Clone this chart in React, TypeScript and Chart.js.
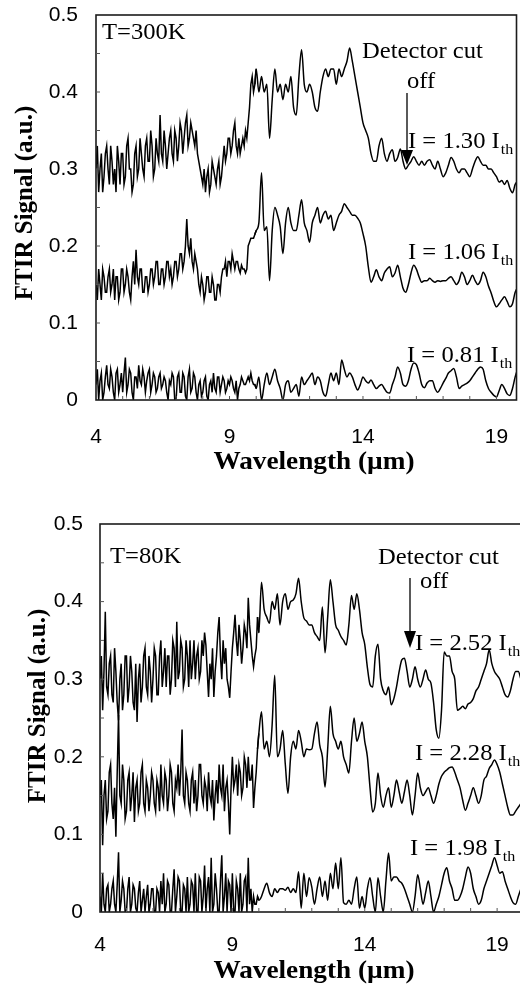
import React, { useEffect, useRef } from 'react';
import { Chart, registerables } from 'chart.js';

Chart.register(...registerables);

// Sampling grids (µm): fine 4.00 … 9.95 (0.05 µm), coarse 10.0 … 19.9 (0.1 µm)
const wlFine: number[] = Array.from({ length: 120 }, (_, i) => (400 + 5 * i) / 100);
const wlCoarse: number[] = Array.from({ length: 100 }, (_, i) => (100 + i) / 10);

const xTicks = [4, 9, 14, 19];
const xTickLabels = ['4', '9', '14', '19'];
const yTicks = [0, 0.1, 0.2, 0.3, 0.4, 0.5];
const yTickLabels = ['0', '0.1', '0.2', '0.3', '0.4', '0.5'];
const yMinorTicks = [0.05, 0.1, 0.15, 0.2, 0.25, 0.3, 0.35, 0.4, 0.45];
const xMinorTicks = [5, 6, 7, 8, 9, 10, 11, 12, 13, 14, 15, 16, 17, 18, 19];

// ---------- T = 300 K ----------
const t300_I130_fine = [
  0.30, 0.33, 0.27, 0.30, 0.32, 0.27, 0.29, 0.32, 0.33, 0.30, 0.28, 0.33, 0.31, 0.28, 0.30, 0.27, 0.33, 0.31, 0.28, 0.32,
  0.32, 0.28, 0.29, 0.33, 0.34, 0.30, 0.30, 0.27, 0.28, 0.32, 0.33, 0.29, 0.30, 0.34, 0.32, 0.30, 0.29, 0.33, 0.34, 0.31,
  0.31, 0.35, 0.33, 0.29, 0.30, 0.34, 0.32, 0.31, 0.37, 0.32, 0.31, 0.35, 0.33, 0.30, 0.32, 0.34, 0.35, 0.32, 0.31, 0.35,
  0.34, 0.31, 0.33, 0.36, 0.35, 0.32, 0.34, 0.36, 0.37, 0.33, 0.34, 0.36, 0.35, 0.34, 0.33, 0.35, 0.32, 0.31, 0.30, 0.29,
  0.28, 0.30, 0.27, 0.29, 0.30, 0.27, 0.28, 0.31, 0.30, 0.29, 0.28, 0.30, 0.31, 0.28, 0.29, 0.31, 0.33, 0.31, 0.32, 0.34,
  0.34, 0.32, 0.33, 0.35, 0.36, 0.33, 0.32, 0.34, 0.32, 0.33, 0.34, 0.33, 0.35, 0.34, 0.36, 0.38, 0.41, 0.42, 0.40, 0.41,
];
const t300_I130_coarse = [
  0.43, 0.40, 0.42, 0.40, 0.41, 0.34, 0.39, 0.43, 0.40, 0.41,
  0.39, 0.41, 0.40, 0.42, 0.38, 0.37, 0.42, 0.455, 0.41, 0.40,
  0.41, 0.40, 0.38, 0.375, 0.40, 0.42, 0.43, 0.42, 0.43, 0.43,
  0.41, 0.43, 0.42, 0.43, 0.44, 0.457, 0.44, 0.42, 0.40, 0.38,
  0.36, 0.35, 0.34, 0.32, 0.31, 0.31, 0.33, 0.34, 0.32, 0.31,
  0.32, 0.325, 0.31, 0.315, 0.326, 0.31, 0.30, 0.305, 0.31, 0.316,
  0.31, 0.305, 0.31, 0.305, 0.31, 0.312, 0.305, 0.30, 0.31, 0.30,
  0.29, 0.295, 0.305, 0.315, 0.31, 0.30, 0.295, 0.30, 0.30, 0.295,
  0.29, 0.30, 0.31, 0.316, 0.31, 0.305, 0.305, 0.30, 0.30, 0.295,
  0.29, 0.283, 0.285, 0.28, 0.285, 0.275, 0.269, 0.28, 0.285, 0.29,
];
const t300_I106_fine = [
  0.15, 0.13, 0.17, 0.15, 0.13, 0.17, 0.16, 0.14, 0.14, 0.16, 0.17, 0.14, 0.15, 0.17, 0.13, 0.16, 0.16, 0.13, 0.14, 0.17,
  0.17, 0.14, 0.15, 0.17, 0.16, 0.14, 0.13, 0.16, 0.18, 0.15, 0.195, 0.16, 0.15, 0.17, 0.17, 0.14, 0.14, 0.16, 0.16, 0.14,
  0.15, 0.17, 0.17, 0.15, 0.16, 0.18, 0.18, 0.15, 0.15, 0.17, 0.17, 0.15, 0.16, 0.18, 0.18, 0.16, 0.17, 0.15, 0.16, 0.18,
  0.18, 0.16, 0.17, 0.19, 0.19, 0.17, 0.18, 0.20, 0.235, 0.20, 0.19, 0.21, 0.18, 0.17, 0.19, 0.18, 0.17, 0.15, 0.14, 0.16,
  0.15, 0.13, 0.14, 0.16, 0.16, 0.14, 0.14, 0.16, 0.15, 0.13, 0.13, 0.15, 0.15, 0.14, 0.16, 0.17, 0.17, 0.18, 0.16, 0.18,
  0.18, 0.17, 0.19, 0.18, 0.17, 0.18, 0.18, 0.17, 0.165, 0.175, 0.17, 0.17, 0.165, 0.17, 0.20, 0.205, 0.21, 0.21, 0.21, 0.215,
];
const t300_I106_coarse = [
  0.22, 0.23, 0.295, 0.22, 0.225, 0.155, 0.22, 0.25, 0.24, 0.225,
  0.19, 0.23, 0.25, 0.23, 0.22, 0.22, 0.24, 0.26, 0.23, 0.22,
  0.205, 0.23, 0.24, 0.25, 0.23, 0.24, 0.245, 0.235, 0.24, 0.22,
  0.23, 0.24, 0.245, 0.255, 0.25, 0.245, 0.24, 0.24, 0.236, 0.23,
  0.216, 0.20, 0.173, 0.153, 0.16, 0.169, 0.16, 0.155, 0.165, 0.17,
  0.173, 0.16, 0.165, 0.175, 0.16, 0.145, 0.14, 0.15, 0.165, 0.175,
  0.17, 0.16, 0.153, 0.155, 0.155, 0.158, 0.155, 0.153, 0.155, 0.154,
  0.155, 0.155, 0.158, 0.16, 0.155, 0.15, 0.155, 0.166, 0.16, 0.15,
  0.155, 0.162, 0.155, 0.15, 0.155, 0.166, 0.16, 0.148, 0.139, 0.128,
  0.121, 0.125, 0.13, 0.134, 0.128, 0.121, 0.125, 0.14, 0.145, 0.14,
];
const t300_I081_fine = [
  0.02, 0.04, 0.0, 0.025, 0.035, 0.0, 0.01, 0.03, 0.045, 0.02, 0.015, 0.04, 0.03, 0.01, 0.0, 0.035, 0.04, 0.01, 0.02, 0.035,
  0.01, 0.035, 0.055, 0.01, 0.02, 0.04, 0.035, 0.01, 0.0, 0.03, 0.03, 0.015, 0.045, 0.025, 0.02, 0.04, 0.03, 0.01, 0.025, 0.035,
  0.04, 0.01, 0.02, 0.035, 0.03, 0.01, 0.015, 0.03, 0.035, 0.015, 0.02, 0.03, 0.025, 0.01, 0.0, 0.025, 0.02, 0.035, 0.03, 0.0,
  0.0, 0.03, 0.035, 0.01, 0.01, 0.035, 0.03, 0.005, 0.0, 0.03, 0.04, 0.01, 0.015, 0.035, 0.03, 0.01, 0.0, 0.02, 0.025, 0.005,
  0.01, 0.025, 0.03, 0.005, 0.0, 0.02, 0.025, 0.01, 0.035, 0.015, 0.01, 0.03, 0.03, 0.01, 0.02, 0.03, 0.025, 0.01, 0.015, 0.025,
  0.02, 0.03, 0.025, 0.015, 0.01, 0.025, 0.0, 0.015, 0.02, 0.03, 0.025, 0.02, 0.02, 0.025, 0.03, 0.025, 0.035, 0.025, 0.02, 0.02,
];
const t300_I081_coarse = [
  0.015, 0.03, 0.0, 0.02, 0.035, 0.02, 0.03, 0.04, 0.025, 0.015,
  0.0, 0.02, 0.025, 0.01, 0.015, 0.02, 0.005, 0.03, 0.02, 0.025,
  0.03, 0.035, 0.02, 0.03, 0.025, 0.01, 0.005, 0.02, 0.035, 0.025,
  0.035, 0.02, 0.052, 0.04, 0.03, 0.035, 0.03, 0.02, 0.013, 0.02,
  0.03, 0.025, 0.022, 0.026, 0.02, 0.015, 0.018, 0.02, 0.015, 0.01,
  0.009, 0.02, 0.03, 0.043, 0.035, 0.02, 0.018, 0.025, 0.04, 0.048,
  0.046, 0.035, 0.02, 0.016, 0.022, 0.025, 0.025, 0.015, 0.01, 0.015,
  0.022, 0.028, 0.035, 0.038, 0.041, 0.03, 0.015, 0.018, 0.02, 0.022,
  0.025, 0.03, 0.035, 0.04, 0.043, 0.04, 0.025, 0.015, 0.01, 0.006,
  0.004, 0.012, 0.02, 0.015, 0.008, 0.006, 0.015, 0.03, 0.04, 0.045,
];

// ---------- T = 80 K ----------
const t80_I252_fine = [
  0.30, 0.33, 0.26, 0.31, 0.387, 0.29, 0.28, 0.32, 0.33, 0.28, 0.27, 0.34, 0.31, 0.27, 0.247, 0.30, 0.32, 0.26, 0.28, 0.33,
  0.33, 0.27, 0.29, 0.33, 0.31, 0.27, 0.26, 0.32, 0.245, 0.30, 0.32, 0.27, 0.29, 0.33, 0.34, 0.29, 0.28, 0.33, 0.31, 0.27,
  0.30, 0.34, 0.33, 0.28, 0.28, 0.33, 0.35, 0.29, 0.31, 0.34, 0.29, 0.33, 0.33, 0.28, 0.30, 0.35, 0.34, 0.29, 0.374, 0.30,
  0.31, 0.35, 0.34, 0.29, 0.30, 0.35, 0.33, 0.29, 0.35, 0.30, 0.32, 0.35, 0.30, 0.33, 0.34, 0.30, 0.31, 0.35, 0.33, 0.36,
  0.344, 0.31, 0.277, 0.32, 0.30, 0.34, 0.277, 0.31, 0.33, 0.36, 0.38, 0.33, 0.30, 0.35, 0.32, 0.34, 0.30, 0.29, 0.276, 0.31,
  0.34, 0.36, 0.383, 0.35, 0.33, 0.37, 0.35, 0.32, 0.34, 0.37, 0.36, 0.34, 0.405, 0.37, 0.35, 0.33, 0.316, 0.33, 0.34, 0.38,
];
const t80_I252_coarse = [
  0.36, 0.425, 0.39, 0.38, 0.372, 0.40, 0.39, 0.41, 0.37, 0.40,
  0.41, 0.39, 0.40, 0.402, 0.41, 0.43, 0.40, 0.379, 0.375, 0.37,
  0.37, 0.36, 0.355, 0.35, 0.393, 0.334, 0.38, 0.428, 0.40, 0.37,
  0.363, 0.355, 0.35, 0.344, 0.37, 0.408, 0.39, 0.41, 0.39, 0.36,
  0.345, 0.315, 0.293, 0.29, 0.33, 0.345, 0.30, 0.285, 0.28, 0.29,
  0.267, 0.275, 0.29, 0.31, 0.325, 0.327, 0.31, 0.29, 0.30, 0.316,
  0.30, 0.29, 0.30, 0.312, 0.30, 0.295, 0.27, 0.235, 0.224, 0.26,
  0.335, 0.33, 0.33, 0.31, 0.30, 0.26, 0.262, 0.265, 0.262, 0.268,
  0.27, 0.275, 0.285, 0.29, 0.30, 0.31, 0.32, 0.338, 0.32, 0.31,
  0.305, 0.30, 0.29, 0.28, 0.277, 0.285, 0.30, 0.31, 0.31, 0.30,
];
const t80_I228_fine = [
  0.148, 0.17, 0.086, 0.15, 0.17, 0.12, 0.13, 0.18, 0.19, 0.14, 0.12, 0.16, 0.097, 0.18, 0.254, 0.15, 0.14, 0.19, 0.17, 0.12,
  0.13, 0.17, 0.18, 0.13, 0.15, 0.18, 0.116, 0.16, 0.17, 0.13, 0.14, 0.18, 0.19, 0.14, 0.13, 0.17, 0.16, 0.13, 0.15, 0.18,
  0.17, 0.14, 0.13, 0.17, 0.16, 0.13, 0.19, 0.15, 0.14, 0.18, 0.17, 0.13, 0.15, 0.19, 0.18, 0.14, 0.13, 0.17, 0.16, 0.19,
  0.15, 0.18, 0.235, 0.15, 0.14, 0.18, 0.17, 0.14, 0.13, 0.17, 0.18, 0.14, 0.17, 0.13, 0.15, 0.19, 0.19, 0.15, 0.14, 0.17,
  0.16, 0.13, 0.18, 0.15, 0.14, 0.17, 0.118, 0.15, 0.17, 0.14, 0.19, 0.16, 0.15, 0.19, 0.13, 0.16, 0.17, 0.14, 0.10, 0.16,
  0.20, 0.16, 0.17, 0.19, 0.15, 0.19, 0.18, 0.15, 0.16, 0.20, 0.19, 0.16, 0.20, 0.17, 0.17, 0.19, 0.134, 0.16, 0.18, 0.21,
];
const t80_I228_coarse = [
  0.23, 0.258, 0.21, 0.22, 0.20, 0.24, 0.305, 0.20, 0.21, 0.234,
  0.19, 0.153, 0.20, 0.22, 0.21, 0.234, 0.22, 0.20, 0.21, 0.209,
  0.21, 0.23, 0.245, 0.215, 0.20, 0.161, 0.21, 0.265, 0.23, 0.22,
  0.21, 0.22, 0.20, 0.19, 0.179, 0.22, 0.25, 0.22, 0.23, 0.245,
  0.22, 0.20, 0.16, 0.129, 0.14, 0.179, 0.15, 0.135, 0.15, 0.16,
  0.135, 0.15, 0.17, 0.155, 0.14, 0.155, 0.17, 0.15, 0.125, 0.15,
  0.179, 0.16, 0.15, 0.155, 0.16, 0.15, 0.14, 0.15, 0.165, 0.175,
  0.18, 0.183, 0.186, 0.187, 0.18, 0.17, 0.16, 0.144, 0.131, 0.14,
  0.15, 0.16, 0.15, 0.14, 0.15, 0.17, 0.175, 0.185, 0.19, 0.196,
  0.19, 0.18, 0.165, 0.15, 0.135, 0.125, 0.125, 0.13, 0.135, 0.14,
];
const t80_I198_fine = [
  0.02, 0.0, 0.05, 0.01, 0.0, 0.03, 0.035, 0.0, 0.01, 0.03, 0.04, 0.01, 0.0, 0.035, 0.077, 0.0, 0.015, 0.04, 0.03, 0.0,
  0.0, 0.03, 0.045, 0.0, 0.01, 0.035, 0.03, 0.005, 0.0, 0.025, 0.04, 0.0, 0.015, 0.03, 0.0, 0.02, 0.035, 0.0, 0.01, 0.03,
  0.03, 0.0, 0.0, 0.03, 0.025, 0.0, 0.04, 0.01, 0.05, 0.0, 0.01, 0.04, 0.035, 0.0, 0.0, 0.03, 0.055, 0.0, 0.02, 0.045,
  0.04, 0.0, 0.0, 0.035, 0.03, 0.0, 0.045, 0.0, 0.01, 0.04, 0.035, 0.0, 0.05, 0.0, 0.0, 0.045, 0.04, 0.0, 0.02, 0.06,
  0.0, 0.03, 0.045, 0.0, 0.07, 0.0, 0.01, 0.05, 0.03, 0.0, 0.0, 0.04, 0.073, 0.0, 0.02, 0.05, 0.0, 0.04, 0.035, 0.0,
  0.05, 0.0, 0.0, 0.04, 0.03, 0.0, 0.05, 0.0, 0.01, 0.04, 0.045, 0.0, 0.07, 0.01, 0.03, 0.0, 0.02, 0.01, 0.01, 0.02,
];
const t80_I198_coarse = [
  0.015, 0.02, 0.03, 0.037, 0.025, 0.02, 0.03, 0.025, 0.03, 0.03,
  0.028, 0.032, 0.025, 0.03, 0.025, 0.052, 0.005, 0.05, 0.02, 0.044,
  0.032, 0.01, 0.03, 0.045, 0.02, 0.04, 0.015, 0.05, 0.03, 0.063,
  0.03, 0.07, 0.012, 0.01, 0.015, 0.01, 0.03, 0.045, 0.005, 0.02,
  0.005, 0.03, 0.044, 0.02, 0.0, 0.044, 0.02, 0.0, 0.04, 0.076,
  0.04, 0.045, 0.045, 0.04, 0.037, 0.03, 0.02, 0.01, 0.0, 0.02,
  0.048, 0.03, 0.01, 0.025, 0.04, 0.02, 0.0, 0.01, 0.02, 0.035,
  0.05, 0.057, 0.04, 0.03, 0.015, 0.015, 0.02, 0.03, 0.045, 0.058,
  0.05, 0.03, 0.02, 0.01, 0.015, 0.03, 0.04, 0.05, 0.06, 0.07,
  0.06, 0.05, 0.052, 0.04, 0.03, 0.02, 0.012, 0.01, 0.02, 0.03,
];

const xTitle = 'Wavelength (µm)';
const yTitle = 'FTIR Signal (a.u.)';
const cutLabel1 = 'Detector cut';
const cutLabel2 = 'off';
const currentLabels300 = ['I = 1.30 I', 'I = 1.06 I', 'I = 0.81 I'];
const currentLabels80 = ['I = 2.52 I', 'I = 2.28 I', 'I = 1.98 I'];
const subLabel = 'th';

const SERIF = '"Liberation Serif", "Times New Roman", serif';
const SANS = '"Liberation Sans", Arial, sans-serif';

type TextItem = { text: string; x: number; y: number; sub?: boolean };
type Panel = {
  canvasW: number;
  canvasH: number;
  yAxisW: number;
  pad: { top: number; right: number; bottom: number };
  xMax: number;
  xTickLen: number;
  yTickLen: number;
  series: [number[], number[]][];
  texts: TextItem[];
  arrow: { x: number; y1: number; y2: number; tip: number };
  xTitlePos: { x: number; y: number };
  yTitlePos: { x: number; y: number };
};

const panels: Panel[] = [
  {
    canvasW: 520,
    canvasH: 493,
    yAxisW: 96,
    pad: { top: 15, right: 3.5, bottom: 33 },
    xMax: 19.75,
    xTickLen: 25,
    yTickLen: 18,
    series: [
      [t300_I130_fine, t300_I130_coarse],
      [t300_I106_fine, t300_I106_coarse],
      [t300_I081_fine, t300_I081_coarse],
    ],
    texts: [
      { text: 'T=300K', x: 102, y: 39 },
      { text: cutLabel1, x: 362, y: 58 },
      { text: cutLabel2, x: 407, y: 88 },
      { text: currentLabels300[0], x: 408, y: 148, sub: true },
      { text: currentLabels300[1], x: 408, y: 259, sub: true },
      { text: currentLabels300[2], x: 407, y: 362, sub: true },
    ],
    arrow: { x: 407, y1: 93, y2: 150, tip: 165 },
    xTitlePos: { x: 314, y: 469 },
    yTitlePos: { x: 32, y: 203 },
  },
  {
    canvasW: 530,
    canvasH: 493,
    yAxisW: 100,
    pad: { top: 31, right: 8, bottom: 14 },
    xMax: 19.94,
    xTickLen: 21,
    yTickLen: 17,
    series: [
      [t80_I252_fine, t80_I252_coarse],
      [t80_I228_fine, t80_I228_coarse],
      [t80_I198_fine, t80_I198_coarse],
    ],
    texts: [
      { text: 'T=80K', x: 110, y: 70 },
      { text: cutLabel1, x: 378, y: 71 },
      { text: cutLabel2, x: 420, y: 95 },
      { text: currentLabels80[0], x: 415, y: 157, sub: true },
      { text: currentLabels80[1], x: 415, y: 267, sub: true },
      { text: currentLabels80[2], x: 410, y: 362, sub: true },
    ],
    arrow: { x: 410, y1: 85, y2: 138, tip: 155 },
    xTitlePos: { x: 314, y: 485 },
    yTitlePos: { x: 45, y: 213 },
  },
];

function stretchText(ctx: CanvasRenderingContext2D, text: string, x: number, y: number, sx: number) {
  ctx.save();
  ctx.translate(x, y);
  ctx.scale(sx, 1);
  ctx.fillText(text, 0, 0);
  ctx.restore();
  return ctx.measureText(text).width * sx;
}

function makeDecor(p: Panel) {
  return {
    id: 'decor',
    afterDraw(chart: any) {
      const { ctx, chartArea: a, scales } = chart;
      const xs = scales.x;
      const ys = scales.y;
      ctx.save();
      // frame
      ctx.strokeStyle = '#1c1c1c';
      ctx.lineWidth = 1.6;
      ctx.strokeRect(a.left, a.top, a.right - a.left, a.bottom - a.top);
      // small inward ticks
      ctx.strokeStyle = '#555';
      ctx.lineWidth = 1;
      ctx.beginPath();
      for (const v of yMinorTicks) {
        const py = ys.getPixelForValue(v);
        ctx.moveTo(a.left, py);
        ctx.lineTo(a.left + 4, py);
      }
      for (const v of xMinorTicks) {
        const px = xs.getPixelForValue(v);
        if (px < a.right - 2) {
          ctx.moveTo(px, a.bottom);
          ctx.lineTo(px, a.bottom - 4);
        }
      }
      ctx.stroke();

      // annotations
      ctx.fillStyle = '#000';
      ctx.textBaseline = 'alphabetic';
      ctx.textAlign = 'left';
      for (const t of p.texts) {
        ctx.font = `23px ${SERIF}`;
        const w = stretchText(ctx, t.text, t.x, t.y, 1.07);
        if (t.sub) {
          ctx.font = `15px ${SERIF}`;
          stretchText(ctx, subLabel, t.x + w + 1, t.y + 6, 1.07);
        }
      }
      // arrow
      ctx.strokeStyle = '#000';
      ctx.lineWidth = 1.3;
      ctx.beginPath();
      ctx.moveTo(p.arrow.x, p.arrow.y1);
      ctx.lineTo(p.arrow.x, p.arrow.y2);
      ctx.stroke();
      ctx.beginPath();
      ctx.moveTo(p.arrow.x - 6, p.arrow.y2);
      ctx.lineTo(p.arrow.x + 6, p.arrow.y2);
      ctx.lineTo(p.arrow.x, p.arrow.tip);
      ctx.closePath();
      ctx.fill();

      // axis titles
      ctx.font = `bold 25px ${SERIF}`;
      ctx.textAlign = 'center';
      ctx.save();
      ctx.translate(p.xTitlePos.x, p.xTitlePos.y);
      ctx.scale(1.09, 1);
      ctx.fillText(xTitle, 0, 0);
      ctx.restore();

      ctx.save();
      ctx.translate(p.yTitlePos.x, p.yTitlePos.y);
      ctx.rotate(-Math.PI / 2);
      ctx.fillText(yTitle, 0, 0);
      ctx.restore();

      ctx.restore();
    },
  };
}

function buildChart(canvas: HTMLCanvasElement, p: Panel) {
  const datasets: any[] = [];
  p.series.forEach(([fine, coarse]) => {
    const finePts = wlFine.map((x, i) => ({ x, y: fine[i] }));
    const coarsePts = wlCoarse.map((x, i) => ({ x, y: coarse[i] }));
    // noisy short-wavelength part: straight segments
    datasets.push({
      data: [...finePts, coarsePts[0]],
      borderColor: '#000',
      borderWidth: 1.5,
      pointRadius: 0,
      tension: 0,
      fill: false,
    });
    // long-wavelength part: smooth curve, starting at the last fine point
    datasets.push({
      data: [finePts[finePts.length - 1], ...coarsePts],
      borderColor: '#000',
      borderWidth: 1.5,
      pointRadius: 0,
      cubicInterpolationMode: 'monotone',
      fill: false,
    });
  });
  return new Chart(canvas, {
    type: 'line',
    data: { datasets },
    options: {
      responsive: false,
      animation: false,
      devicePixelRatio: 1,
      layout: { padding: { left: 0, top: p.pad.top, right: p.pad.right, bottom: p.pad.bottom } },
      plugins: {
        legend: { display: false },
        tooltip: { enabled: false },
        title: { display: false },
      },
      scales: {
        x: {
          type: 'linear',
          position: 'bottom',
          min: 4,
          max: p.xMax,
          afterBuildTicks: (s: any) => {
            s.ticks = xTicks.map((v) => ({ value: v }));
          },
          afterFit: (s: any) => {
            s.height = 60;
          },
          grid: { display: false, drawTicks: true, tickLength: p.xTickLen },
          border: { display: false },
          ticks: {
            autoSkip: false,
            maxRotation: 0,
            padding: 0,
            color: '#000',
            font: { family: SANS, size: 21 },
            callback: (v: any) => {
              const i = xTicks.indexOf(Number(v));
              return i >= 0 ? xTickLabels[i] : '';
            },
          },
        },
        y: {
          type: 'linear',
          position: 'left',
          min: 0,
          max: 0.5,
          afterBuildTicks: (s: any) => {
            s.ticks = yTicks.map((v) => ({ value: v }));
          },
          afterFit: (s: any) => {
            s.width = p.yAxisW;
          },
          grid: { display: false, drawTicks: true, tickLength: p.yTickLen },
          border: { display: false },
          ticks: {
            autoSkip: false,
            padding: 0,
            color: '#000',
            font: { family: SANS, size: 21 },
            callback: (v: any) => {
              const i = yTicks.findIndex((t) => Math.abs(t - Number(v)) < 1e-9);
              return i >= 0 ? yTickLabels[i] : '';
            },
          },
        },
      },
    } as any,
    plugins: [makeDecor(p)],
  });
}

export default function App() {
  const topRef = useRef<HTMLCanvasElement>(null);
  const botRef = useRef<HTMLCanvasElement>(null);

  useEffect(() => {
    const c1 = buildChart(topRef.current!, panels[0]);
    const c2 = buildChart(botRef.current!, panels[1]);
    return () => {
      c1.destroy();
      c2.destroy();
    };
  }, []);

  return (
    <div
      style={{
        position: 'absolute',
        left: 0,
        top: 0,
        width: 520,
        height: 986,
        overflow: 'hidden',
        background: '#fff',
      }}
    >
      <canvas
        ref={topRef}
        width={panels[0].canvasW}
        height={panels[0].canvasH}
        style={{ position: 'absolute', left: 0, top: 0, width: panels[0].canvasW, height: panels[0].canvasH }}
      />
      <canvas
        ref={botRef}
        width={panels[1].canvasW}
        height={panels[1].canvasH}
        style={{ position: 'absolute', left: 0, top: 493, width: panels[1].canvasW, height: panels[1].canvasH }}
      />
    </div>
  );
}
